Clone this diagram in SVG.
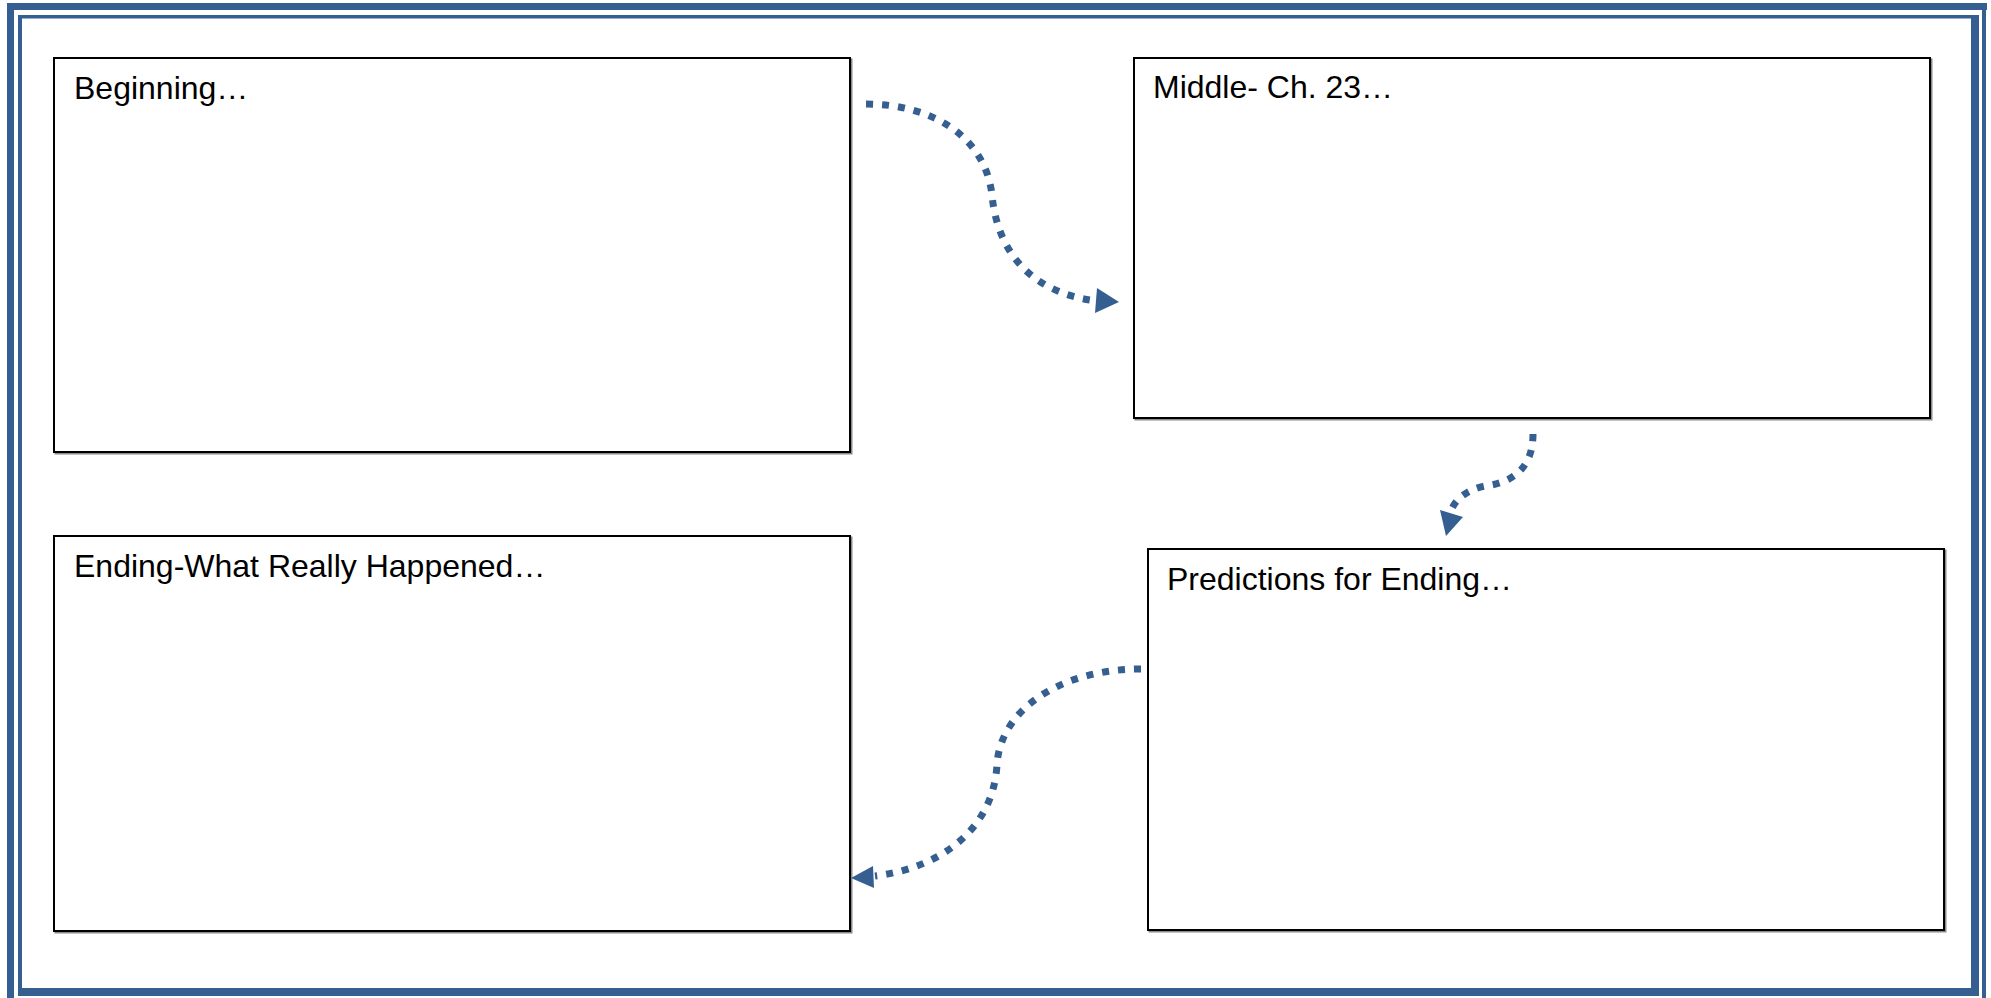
<svg xmlns="http://www.w3.org/2000/svg" width="1991" height="998" viewBox="0 0 1991 998">
<style>
.frame{fill:#365F91}
.box{fill:#fff;stroke:#000;stroke-width:2}
.shadow{fill:none;stroke:#8a8a8a;stroke-width:2}
.lbl{font-family:"Liberation Sans",Arial,sans-serif;font-size:32px;fill:#000}
.conn{fill:none;stroke:#365F91;stroke-width:7;stroke-dasharray:7 9}
.head{fill:#365F91}
</style>
<rect width="1991" height="998" fill="#fff"/>
<g id="frame">
<rect class="frame" x="7" y="3" width="1980" height="7"/>
<rect class="frame" x="7" y="3" width="7" height="995"/>
<rect class="frame" x="1982" y="10" width="4" height="988"/>
<rect class="frame" x="18" y="15" width="1961" height="3.5"/>
<rect class="frame" x="18" y="15" width="4" height="981"/>
<rect class="frame" x="1971" y="15" width="8" height="981"/>
<rect class="frame" x="18" y="988" width="1961" height="8"/>
</g>
<g id="beginning">
<rect class="shadow" x="55.5" y="59.5" width="796" height="394"/>
<rect class="box" x="54" y="58" width="796" height="394"/>
<text class="lbl" x="74" y="99">Beginning…</text>
</g>
<g id="middle">
<rect class="shadow" x="1135.5" y="59.5" width="796" height="360"/>
<rect class="box" x="1134" y="58" width="796" height="360"/>
<text class="lbl" x="1153" y="98">Middle- Ch. 23…</text>
</g>
<g id="predictions">
<rect class="shadow" x="1149.5" y="550.5" width="796" height="381"/>
<rect class="box" x="1148" y="549" width="796" height="381"/>
<text class="lbl" x="1167" y="590">Predictions for Ending…</text>
</g>
<g id="ending">
<rect class="shadow" x="55.5" y="537.5" width="796" height="395"/>
<rect class="box" x="54" y="536" width="796" height="395"/>
<text class="lbl" x="74" y="577">Ending-What Really Happened…</text>
</g>
<g id="connectors">
<path class="conn" d="M866,104 C930,104 985,135 992,195 C998,260 1040,295 1098,301"/>
<polygon class="head" points="1119,302 1097,288 1095,313"/>
<path class="conn" d="M1533,434 C1533,470 1510,483 1485,486 C1465,490 1452,502 1450,515"/>
<polygon class="head" points="1446,536 1440,510 1463,517"/>
<path class="conn" d="M1141,669 C1060,669 1000,710 997,765 C993,830 940,868 875,876"/>
<polygon class="head" points="851,878 873,866 874,888"/>
</g>
</svg>
